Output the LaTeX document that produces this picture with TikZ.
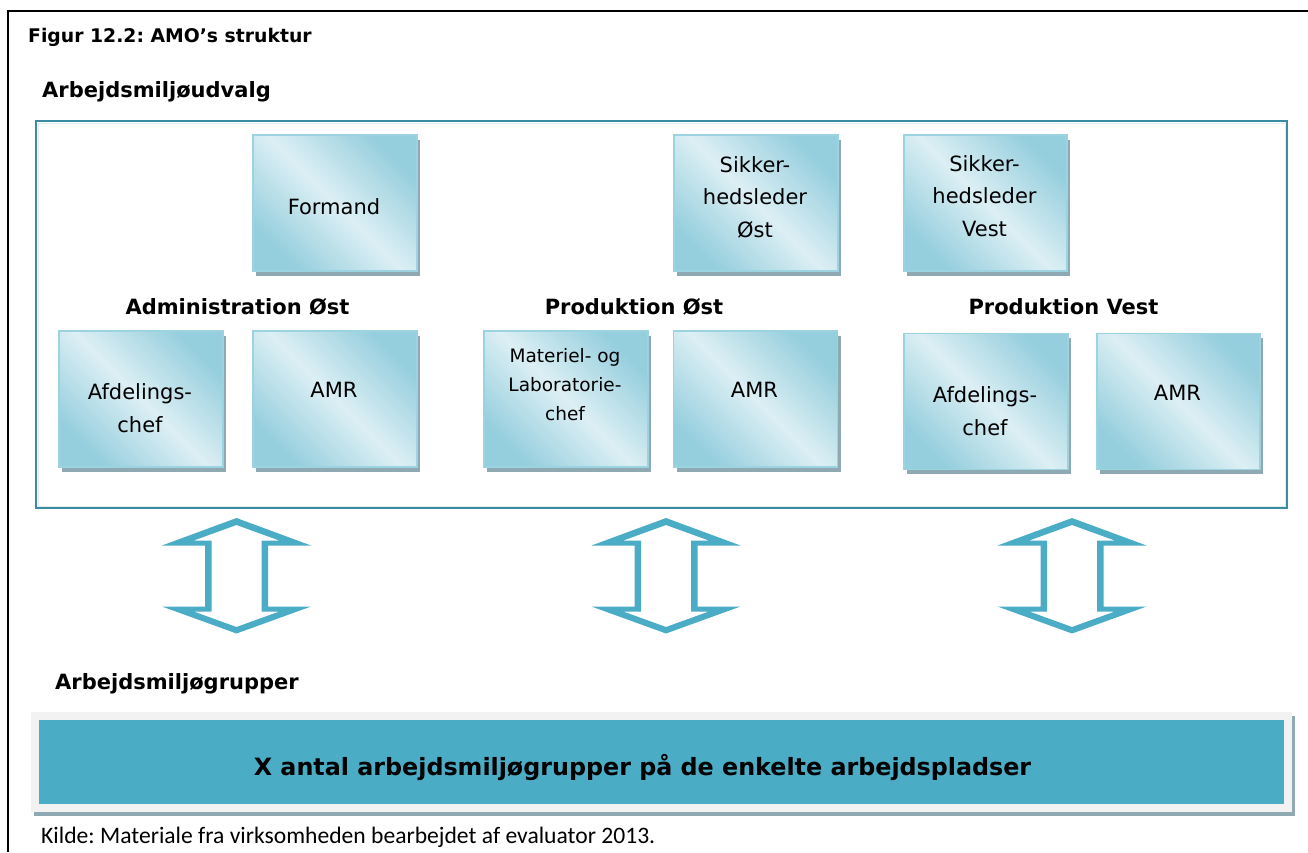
\documentclass[tikz,border=0pt]{standalone}
\usepackage{fontspec}
\setmainfont{DejaVu Sans}
\newfontfamily\captionfont{Carlito}
\usetikzlibrary{calc}
\frenchspacing

\definecolor{accent}{HTML}{4BACC6}
\definecolor{framec}{HTML}{3A8CA3}
\definecolor{boxlight}{HTML}{DCEFF4}
\definecolor{boxdark}{HTML}{95CEDD}
\definecolor{boxedge}{HTML}{9CD3E1}
\definecolor{shadowc}{HTML}{8FA9B2}
\definecolor{barback}{HTML}{F2F2F2}

\tikzset{
  orgbox/.style={
    anchor=north west, inner sep=0pt,
    minimum width=164pt, minimum height=136pt,
    preaction={fill=shadowc, transform canvas={shift={(3.5pt,-5pt)}}},
    top color=boxdark, bottom color=boxdark, middle color=boxlight,
    shading angle=-45,
    draw=boxedge, line width=1.5pt},
  boxtext/.style={align=center, inner sep=0pt,
    font=\fontsize{21}{32.5}\selectfont},
  smalltext/.style={align=center, inner sep=0pt,
    font=\fontsize{18.5}{29}\selectfont},
  heading/.style={anchor=base west, inner sep=0pt,
    font=\fontsize{21}{25}\selectfont\bfseries},
  grouplabel/.style={anchor=base, inner sep=0pt,
    font=\fontsize{21}{25}\selectfont\bfseries},
}

% outlined double-headed vertical arrow centred at x = #1
\newcommand{\twowayarrow}[1]{%
  \begin{scope}[shift={(#1,0)}]
    \fill[accent, even odd rule]
      (0,518) -- (74.5,545.5) -- (31.5,545.5) -- (31.5,606.5) -- (74.5,606.5)
      -- (0,633.5) -- (-74.5,606.5) -- (-31.5,606.5) -- (-31.5,545.5)
      -- (-74.5,545.5) -- cycle
      (0,525) -- (42.8,540.5) -- (25,540.5) -- (25,611.5) -- (42.8,611.5)
      -- (0,627) -- (-42.8,611.5) -- (-25,611.5) -- (-25,540.5)
      -- (-42.8,540.5) -- cycle;
  \end{scope}}

\begin{document}
\begin{tikzpicture}[x=1pt,y=-1pt]
\useasboundingbox (0,0) rectangle (1308,852);
\fill[white] (0,0) rectangle (1308,852);

% page frame (left and top rules)
\draw[line width=2pt] (8,852) -- (8,11) -- (1308,11);

% headings
\node[heading, font=\fontsize{18.8}{22}\selectfont\bfseries] (title) at (28,42.3) {Figur 12.2: AMO’s struktur};
\node[heading] (committee) at (42,97) {Arbejdsmiljøudvalg};

% committee frame
\draw[framec, line width=2.5pt] (36,121) rectangle (1287,508);
\draw[white!85!framec, line width=0.8pt] (38,123) rectangle (1285,506);

% top row
\node[orgbox] (formand) at (252,134) {};
\node[orgbox] (sikost) at (673,134) {};
\node[orgbox, minimum width=163pt] (sikvest) at (903,134) {};
\node[boxtext] (formandT) at (334,207) {Formand};
\node[boxtext] (sikostT) at (755,197) {Sikker-\\hedsleder\\Øst};
\node[boxtext] (sikvestT) at (984.5,196) {Sikker-\\hedsleder\\Vest};

% group labels
\node[grouplabel] (admost) at (237.5,314.5) {Administration Øst};
\node[grouplabel] (prodost) at (634,314.5) {Produktion Øst};
\node[grouplabel] (prodvest) at (1063.5,314.5) {Produktion Vest};

% bottom row
\node[orgbox] (afdA) at (58,330) {};
\node[orgbox] (amrA) at (252,330) {};
\node[orgbox] (matP) at (483,330) {};
\node[orgbox] (amrP) at (672.5,330) {};
\node[orgbox] (afdV) at (903,332.5) {};
\node[orgbox, minimum width=163pt] (amrV) at (1096,332.5) {};

\node[boxtext] (afdAT) at (140,408) {Afdelings-\\chef};
\node[boxtext] (amrAT) at (334,390) {AMR};
\node[smalltext] (matPT) at (565,385) {Materiel- og\\Laboratorie-\\chef};
\node[boxtext] (amrPT) at (754.5,390) {AMR};
\node[boxtext] (afdVT) at (985,411) {Afdelings-\\chef};
\node[boxtext] (amrVT) at (1177.5,393) {AMR};

% two-way arrows between committee and groups
\twowayarrow{236.5}
\twowayarrow{666}
\twowayarrow{1072}

\node[heading] (groups) at (55,689) {Arbejdsmiljøgrupper};

% bottom bar
\fill[shadowc] (34,716) rectangle (1295,816);
\fill[barback] (31,712) rectangle (1292,812);
\node[fill=accent, anchor=north west, inner sep=0pt,
      minimum width=1245pt, minimum height=84pt] (bar) at (39,720) {};
\node[anchor=base, inner sep=0pt, font=\fontsize{23.8}{28}\selectfont\bfseries]
  (barT) at (642.5,775) {X antal arbejdsmiljøgrupper på de enkelte arbejdspladser};

% source line
\node[anchor=base west, inner sep=0pt, font=\captionfont\fontsize{23.6}{28}\selectfont]
  (source) at (41,843.3) {Kilde: Materiale fra virksomheden bearbejdet af evaluator 2013.};
\end{tikzpicture}
\end{document}
